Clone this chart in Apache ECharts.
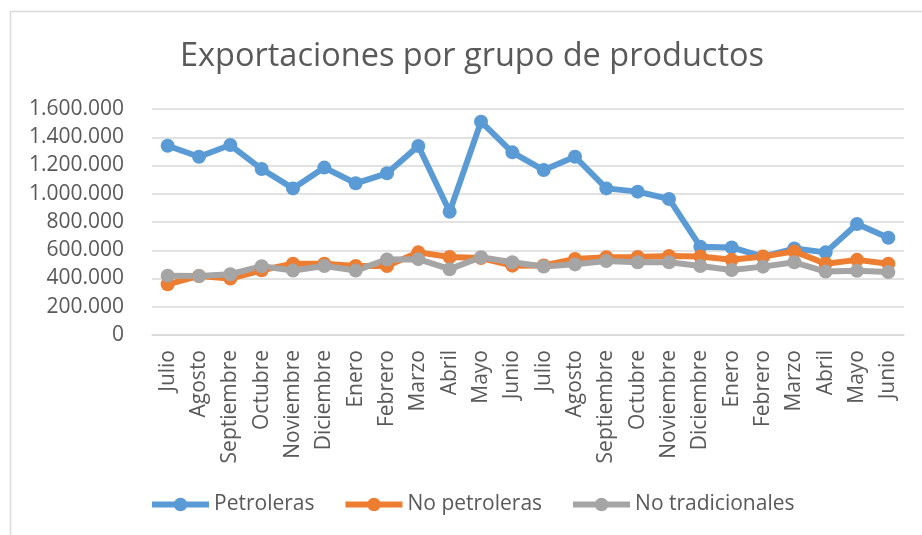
<!DOCTYPE html>
<html>
<head>
<meta charset="utf-8">
<script src="https://cdn.jsdelivr.net/npm/echarts@6/dist/echarts.min.js"></script>
<style>
  html, body { margin: 0; padding: 0; background: #fff; }
  #chart { width: 922px; height: 535px; }
</style>
</head>
<body>
<div id="chart"></div>
<script>
// meses (dos años fiscales, julio a junio)
var meses = ['Julio', 'Agosto', 'Septiembre', 'Octubre', 'Noviembre', 'Diciembre', 'Enero', 'Febrero', 'Marzo', 'Abril', 'Mayo', 'Junio',
             'Julio', 'Agosto', 'Septiembre', 'Octubre', 'Noviembre', 'Diciembre', 'Enero', 'Febrero', 'Marzo', 'Abril', 'Mayo', 'Junio'];

var petroleras = [1340000, 1262000, 1345000, 1175000, 1038000, 1185000, 1074000, 1145000, 1338000, 873000, 1510000, 1293000,
                  1168000, 1262000, 1038000, 1015000, 963000, 625000, 620000, 554000, 612000, 585000, 786000, 689000];
var noPetroleras = [359000, 418000, 400000, 458000, 505000, 505000, 488000, 488000, 585000, 552000, 545000, 491000,
                    492000, 538000, 550000, 552000, 560000, 556000, 532000, 555000, 592000, 505000, 532000, 505000];
var noTradicionales = [420000, 418000, 430000, 487000, 456000, 489000, 456000, 535000, 537000, 466000, 550000, 515000,
                       485000, 500000, 524000, 515000, 515000, 489000, 460000, 484000, 515000, 449000, 454000, 446000];

var nombres = ['Petroleras', 'No petroleras', 'No tradicionales'];
var colores = ['#5B9BD5', '#ED7D31', '#A5A5A5'];

var yMin = 0, yMax = 1600000, yPaso = 200000;

var txt = '#595959';
var fuente = '"Open Sans", sans-serif';

function miles(v) {
    return String(v).replace(/\B(?=(\d{3})+(?!\d))/g, '.');
}

function serie(nombre, datos, color) {
    return {
        name: nombre,
        type: 'line',
        data: datos,
        symbol: 'circle',
        symbolSize: 14,
        color: color,
        lineStyle: { width: 6, color: color },
        itemStyle: { color: color },
        emphasis: { disabled: true },
        animation: false
    };
}

var myChart = echarts.init(document.getElementById('chart'));

var option = {
    backgroundColor: '#fff',
    textStyle: { fontFamily: fuente },
    graphic: [{
        type: 'rect',
        shape: { x: 10.5, y: 11.5, width: 1000, height: 1000 },
        style: { fill: 'none', stroke: '#d9d9d9', lineWidth: 1.5 },
        silent: true
    }],
    title: {
        text: 'Exportaciones por grupo de productos',
        left: 467,
        textAlign: 'center',
        top: 35,
        textStyle: { color: txt, fontSize: 32.5, fontWeight: 'normal', fontFamily: fuente }
    },
    legend: {
        data: nombres,
        left: 144,
        top: 489,
        itemWidth: 57,
        itemHeight: 17,
        itemGap: 28,
        lineStyle: { width: 6 },
        textStyle: { color: txt, fontSize: 21, fontFamily: fuente }
    },
    grid: {
        left: 152,
        right: 18,
        top: 109,
        bottom: 200
    },
    xAxis: {
        type: 'category',
        data: meses,
        boundaryGap: true,
        axisTick: { show: false },
        axisLine: { lineStyle: { color: '#d9d9d9', width: 1.5 } },
        axisLabel: { rotate: 90, interval: 0, margin: 15, color: txt, fontSize: 21, fontFamily: fuente }
    },
    yAxis: {
        type: 'value',
        min: yMin,
        max: yMax,
        interval: yPaso,
        axisLine: { show: false },
        axisTick: { show: false },
        splitLine: { lineStyle: { color: '#d9d9d9', width: 1.5 } },
        axisLabel: { margin: 28, color: txt, fontSize: 21, fontFamily: fuente, formatter: miles }
    },
    series: [
        serie(nombres[0], petroleras, colores[0]),
        serie(nombres[1], noPetroleras, colores[1]),
        serie(nombres[2], noTradicionales, colores[2])
    ]
};

myChart.setOption(option);
</script>
</body>
</html>
